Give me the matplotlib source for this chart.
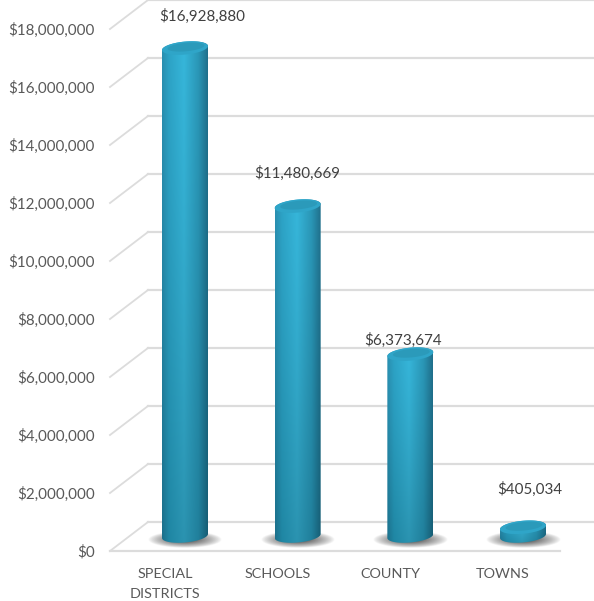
import numpy as np
from matplotlib import pyplot as plt
from matplotlib.patches import PathPatch
from matplotlib.path import Path
from matplotlib.transforms import ScaledTranslation

categories = ["SPECIAL\nDISTRICTS", "SCHOOLS", "COUNTY", "TOWNS"]
values = [16928880, 11480669, 6373674, 405034]
value_labels = ["$16,928,880", "$11,480,669", "$6,373,674", "$405,034"]
ticks = [0, 2000000, 4000000, 6000000, 8000000, 10000000, 12000000, 14000000, 16000000, 18000000]
tick_labels = ["$0", "$2,000,000", "$4,000,000", "$6,000,000", "$8,000,000", "$10,000,000",
               "$12,000,000", "$14,000,000", "$16,000,000", "$18,000,000"]
label_shift = [(17, 44), (0, 45), (-7, 26), (7, 50)]

plt.rcParams['font.family'] = ['Lato', 'DejaVu Sans']
W, H = 594, 601
PX_CAT = 112.67      # pixels per category
PX_M = 29.0          # pixels per million
PXX = 1 / PX_CAT
PXY = 1e6 / PX_M

fig = plt.figure(figsize=(W / 100, H / 100), dpi=100)
ax = fig.add_axes([110 / W, 50 / H, 484 / W, 551 / H])
xmin, xmax = -75 * PXX, 409 * PXX
ax.set_xlim(xmin, xmax)
ax.set_ylim(0, 19000000)
for s in ax.spines.values():
    s.set_visible(False)

# 3d floor and walls
depth_x, depth_y = 38 * PXX, 29 * PXY
grid_col = "#dcdcdc"
for t in ticks:
    ax.plot([xmin, xmin + depth_x], [t, t + depth_y], color=grid_col, lw=1.3, zorder=1, clip_on=False)
    ax.plot([xmin + depth_x, xmax], [t + depth_y, t + depth_y], color=grid_col, lw=1.6, zorder=1, clip_on=False)
ax.plot([xmin, xmin + 450 * PXX], [0, 0], color=grid_col, lw=1.6, zorder=1, clip_on=False)


def rgb(c):
    return np.array([int(c[i:i + 2], 16) / 255 for i in (1, 3, 5)])


def cyl_path(x, base, top, rx, ry, tilt):
    th = np.linspace(0, np.pi, 60)
    xb = x - rx * np.cos(th)
    yb = base - ry * np.sin(th) - tilt * np.cos(th)
    xt = x + rx * np.cos(th)
    yt = top + ry * np.sin(th) + tilt * np.cos(th)
    pts = np.column_stack([np.r_[xb, xt], np.r_[yb, yt]])
    return Path(np.vstack([pts, pts[0]]))


def ellipse_path(x, y, rx, ry, tilt):
    th = np.linspace(0, 2 * np.pi, 90)
    return Path(np.column_stack([x + rx * np.cos(th), y + ry * np.sin(th) + tilt * np.cos(th)]))


rx = 23 * PXX
ry = 6.5 * PXY
tilt = 2 * PXY

# horizontal shading of the cylinder
u = np.linspace(0, 1, 80)
stops = [0.0, 0.15, 0.48, 0.8, 1.0]
top_cols = np.array([rgb(c) for c in ["#2a8fb0", "#2da3c6", "#36b6da", "#2a96b6", "#20708c"]])
bot_cols = np.array([rgb(c) for c in ["#1b6f8a", "#1f86a3", "#2b93b0", "#207f9b", "#165d74"]])
top_line = np.column_stack([np.interp(u, stops, top_cols[:, k]) for k in range(3)])
bot_line = np.column_stack([np.interp(u, stops, bot_cols[:, k]) for k in range(3)])

for i, v in enumerate(values):
    base = 15 * PXY
    top = v + 12 * PXY

    # soft shadow on the floor
    gx, gy = np.meshgrid(np.linspace(-1, 1, 120), np.linspace(-1, 1, 40))
    alpha = np.clip(1.3 - np.sqrt(gx ** 2 + gy ** 2) * 1.3, 0, 1) ** 0.8
    shadow = np.zeros(gx.shape + (4,))
    shadow[..., :3] = rgb("#454545")
    shadow[..., 3] = alpha * 0.85
    ax.imshow(shadow, extent=[i - 37 * PXX, i + 37 * PXX, 3 * PXY, 20 * PXY],
              aspect='auto', zorder=2, interpolation='bilinear')

    # body
    f = np.linspace(0, 1, 200)[:, None, None]
    img = top_line[None, :, :] + (bot_line[None, :, :] - top_line[None, :, :]) * f ** 1.3
    im = ax.imshow(img, extent=[i - rx, i + rx, base - ry - tilt, top + ry + tilt],
                   aspect='auto', origin='upper', zorder=3, interpolation='bilinear')
    im.set_clip_path(PathPatch(cyl_path(i, base, top, rx, ry, tilt), transform=ax.transData))

    # top face
    cap = PathPatch(ellipse_path(i, top, rx, ry, tilt), facecolor="#2fa5c8", edgecolor="none", zorder=4)
    ax.add_patch(cap)
    inner = PathPatch(ellipse_path(i + 1 * PXX, top + 1 * PXY, rx * 0.8, ry * 0.65, tilt * 0.8),
                      facecolor="#2b9aba", edgecolor="none", zorder=5)
    ax.add_patch(inner)

    ax.annotate(value_labels[i], xy=(i, v), xytext=label_shift[i], textcoords='offset pixels',
                ha='center', va='center', fontsize=10.9, color="#404040", zorder=6)

ax.set_xlim(xmin, xmax)
ax.set_ylim(0, 19000000)
ax.set_yticks(ticks)
ax.set_yticklabels(tick_labels)
ax.set_xticks(range(len(categories)))
ax.set_xticklabels(categories, linespacing=1.8)
ax.tick_params(axis='y', length=0, pad=11, labelsize=10.9, labelcolor="#595959")
ax.tick_params(axis='x', length=0, pad=12, labelsize=10.4, labelcolor="#595959")
# category labels sit a little left of the bars
shift = ScaledTranslation(-20 / 100, 0, fig.dpi_scale_trans)
for lab in ax.get_xticklabels():
    lab.set_transform(lab.get_transform() + shift)

fig.savefig("out.png", dpi=100)
